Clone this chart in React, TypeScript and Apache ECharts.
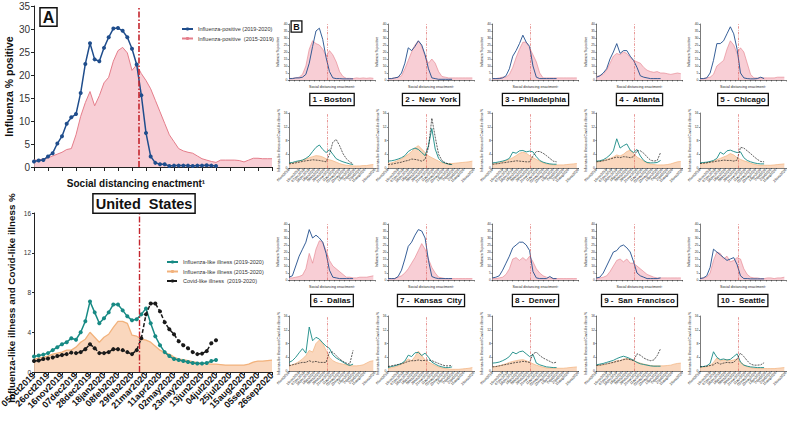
import React, { useEffect, useRef } from "react";
import * as echarts from "echarts";

// ---------- tick labels ----------
const dateLabels = [
  "05oct2019", "26oct2019", "16nov2019", "07dec2019", "28dec2019", "18jan2020",
  "08feb2020", "29feb2020", "21mar2020", "11apr2020", "02may2020", "23may2020",
  "13jun2020", "04jul2020", "25jul2020", "15aug2020", "05sep2020", "26sep2020",
];
const distancingWeek = 22.5;

// ---------- Panel A : United States (weekly) ----------
const usFluPos1920 = [1.2, 1.4, 1.5, 2.3, 3.0, 5.1, 6.7, 9.4, 10.8, 11.5, 16.1, 22.4, 26.9, 23.4, 23.0, 25.9, 28.2, 30.1, 30.2, 29.6, 28.2, 25.7, 22.3, 15.6, 7.4, 2.3, 0.9, 0.6, 0.6, 0.2, 0.3, 0.3, 0.3, 0.3, 0.2, 0.3, 0.3, 0.4, 0.3, 0.2];
const usFluPos1519 = [1.5, 1.5, 1.8, 2.0, 2.4, 2.8, 3.2, 3.8, 4.0, 7.0, 11.0, 14.0, 16.4, 13.3, 15.5, 18.3, 19.5, 23.0, 25.3, 26.0, 24.8, 21.0, 22.2, 20.3, 18.8, 17.0, 14.5, 12.0, 9.5, 7.0, 5.5, 4.0, 3.5, 3.2, 3.0, 2.4, 1.8, 1.5, 1.2, 1.0, 1.5, 1.5, 1.5, 1.5, 1.4, 1.1, 1.5, 1.9, 1.9, 1.8, 1.8, 1.8];
const usIli1920 = [1.55, 1.65, 1.75, 1.9, 2.2, 2.5, 2.8, 3.0, 3.4, 3.25, 4.0, 5.1, 7.1, 6.0, 4.9, 5.4, 6.0, 6.8, 6.8, 6.2, 5.6, 5.2, 5.3, 5.8, 6.4, 4.9, 3.6, 2.7, 2.0, 1.6, 1.3, 1.2, 1.1, 1.0, 0.9, 0.85, 0.85, 0.9, 1.1, 1.2];
const usIli1520 = [1.3, 1.4, 1.5, 1.6, 1.8, 1.9, 2.0, 2.2, 2.2, 2.5, 3.0, 3.3, 4.0, 3.5, 3.0, 3.5, 3.8, 4.5, 5.1, 5.1, 4.9, 3.7, 3.6, 3.3, 3.2, 3.0, 2.6, 2.2, 1.95, 1.8, 1.5, 1.3, 1.25, 1.15, 1.05, 0.95, 0.9, 0.85, 0.8, 0.8, 0.75, 0.7, 0.7, 0.7, 0.7, 0.7, 0.8, 1.0, 1.1, 1.1, 1.15, 1.2];
const usCli1920 = [1.1, 1.15, 1.3, 1.35, 1.45, 1.6, 1.7, 1.8, 1.95, 1.9, 2.0, 2.3, 2.8, 2.4, 1.9, 1.9, 2.0, 2.3, 2.3, 2.2, 2.0, 1.8, 2.2, 3.4, 5.8, 6.9, 6.9, 6.1, 5.0, 4.3, 3.8, 3.1, 2.7, 2.4, 2.0, 1.8, 1.85, 2.1, 2.9, 3.2];

// ---------- Panel B : cities (read every second week) ----------
const bostonFlu = [1, 1, 1.5, 1.5, 2, 4, 12, 24, 35, 37, 29, 16, 6, 1.5, 1, 1, 0.8, 0.8, 0.8, 0.8];
const bostonFluAvg = [1, 1.2, 1.5, 2, 4, 10, 22, 28, 26, 25, 22, 17, 21, 18, 13, 6, 2.5, 1.2, 1.2, 1, 1.5, 1.2, 1.5, 1.2, 1.5, 1.2];
const bostonIli = [1.5, 1.6, 1.9, 2.1, 2.3, 2.8, 3.5, 4.8, 6.0, 6.7, 5.4, 4.5, 5.3, 4.0, 2.7, 2.2, 1.8, 1.5, 1.2, 1.0];
const bostonIliAvg = [1.3, 1.5, 1.7, 2.0, 2.3, 2.6, 3.0, 3.3, 3.6, 3.5, 3.2, 2.7, 2.4, 2.1, 1.7, 1.3, 1.0, 0.8, 0.7, 0.6, 0.6, 0.6, 0.7, 0.7, 0.9, 1.0];
const bostonCli = [1.2, 1.3, 1.5, 1.7, 1.9, 2.1, 2.2, 2.4, 2.3, 2.2, 2.0, 1.8, 4.0, 7.5, 8.3, 6.5, 4.2, 2.7, 1.8, 1.2];

const nyFlu = [1, 1, 1.5, 2, 5, 12, 23, 21, 24, 28, 25, 18, 8, 1.5, 1, 0.5, 0.5, 0.5, 0.5, 0.5];
const nyFluAvg = [1, 1, 1.5, 2, 3, 8, 14, 20, 25, 28, 24, 17, 12, 15, 12, 6, 2.5, 2, 1.5, 1.5, 1.5, 1.5, 1.5, 1.5, 1.5, 1.5];
const nyIli = [2, 2.1, 2.3, 2.6, 3.0, 3.6, 4.8, 5.4, 5.8, 5.4, 4.5, 3.6, 6.5, 11.5, 5.5, 2.8, 1.8, 1.4, 1.1, 1.0];
const nyIliAvg = [1.3, 1.5, 1.8, 2.2, 2.7, 3.3, 4.0, 4.8, 5.8, 6.5, 5.5, 4.5, 3.5, 3.0, 2.5, 2.0, 1.5, 1.3, 1.3, 1.3, 1.4, 1.5, 1.6, 1.7, 1.8, 2.0];
const nyCli = [1, 1.1, 1.3, 1.5, 1.7, 2.0, 2.2, 2.6, 2.5, 2.3, 2.0, 2.5, 6.0, 14.5, 9.0, 4.0, 2.2, 1.5, 1.2, 1.0];

const phlFlu = [1, 1, 1, 1.5, 3, 8, 17, 21, 26, 32, 27, 24, 10, 2, 1, 1, 1, 1, 1, 1];
const phlFluAvg = [1, 1, 1.5, 2, 2, 4, 9, 16, 22, 27, 27, 23, 18, 13, 5, 1.5, 1.5, 1.5, 1.5, 1.5, 1.5, 1.5, 1.5, 1.5, 1.5, 1.5];
const phlIli = [1.5, 1.6, 1.8, 2.0, 2.3, 2.8, 4.6, 4.3, 5.0, 5.1, 4.7, 4.9, 4.7, 3.3, 2.2, 1.7, 1.4, 1.2, 1.1, 1.1];
const phlIliAvg = [1.1, 1.3, 1.5, 1.8, 2.1, 2.5, 3.0, 3.6, 4.3, 4.6, 4.3, 3.6, 3.0, 2.5, 2.0, 1.5, 1.2, 1.0, 0.9, 0.9, 0.9, 0.9, 1.0, 1.1, 1.2, 1.3];
const phlCli = [1.1, 1.2, 1.3, 1.5, 1.6, 1.8, 1.9, 2.1, 2.0, 1.9, 1.8, 1.8, 3.5, 4.8, 4.8, 4.3, 3.6, 2.8, 2.0, 1.8];

const atlFlu = [2, 3, 5, 8, 15, 20, 26, 19, 21, 21, 17, 14, 9, 3, 2, 1.5, 1, 1, 1, 1];
const atlFluAvg = [2.5, 3, 4, 7, 12, 17, 19, 18, 20, 19, 16, 14, 13, 12, 9, 7, 6, 5.5, 6, 5, 5, 4.5, 4, 4.5, 5, 4.5];
const atlIli = [2.0, 2.1, 2.4, 3.0, 3.8, 5.0, 8.5, 5.8, 6.5, 7.0, 5.2, 4.5, 5.4, 3.5, 2.2, 1.6, 1.5, 1.5, 1.6, 2.2];
const atlIliAvg = [1.8, 2.0, 2.2, 2.5, 2.8, 3.2, 3.8, 3.5, 4.0, 4.8, 5.2, 4.2, 3.2, 2.6, 2.0, 1.5, 1.2, 1.0, 0.9, 0.9, 0.9, 1.0, 1.2, 1.5, 1.8, 1.9];
const atlCli = [1.8, 1.9, 2.1, 2.3, 2.6, 2.9, 3.2, 3.0, 3.3, 3.2, 3.0, 3.3, 5.0, 5.0, 4.3, 3.2, 2.3, 2.0, 2.2, 4.5];

const chiFlu = [1, 1, 1.5, 5, 14, 26, 26, 28, 33, 38, 33, 22, 5, 1.5, 1, 0.8, 0.8, 1, 2, 1];
const chiFluAvg = [1, 1, 1.5, 2, 4, 10, 12, 14, 22, 28, 25, 19, 23, 20, 12, 4, 1.5, 1.5, 1.5, 1.5, 1.5, 1.5, 1.5, 2, 2, 2];
const chiIli = [1.5, 1.6, 1.7, 1.9, 2.2, 2.8, 4.6, 4.0, 5.0, 5.2, 4.8, 4.5, 4.7, 3.0, 2.2, 1.8, 1.5, 1.3, 1.2, 1.2];
const chiIliAvg = [1.2, 1.3, 1.5, 1.7, 2.0, 2.4, 2.8, 3.2, 3.6, 4.2, 3.8, 3.0, 2.5, 2.1, 1.8, 1.4, 1.1, 0.9, 0.8, 0.8, 0.8, 0.8, 0.9, 1.0, 1.1, 1.2];
const chiCli = [1.3, 1.4, 1.5, 1.7, 1.8, 2.0, 2.1, 2.3, 2.2, 2.2, 2.0, 2.3, 6.0, 5.8, 5.0, 4.2, 3.3, 2.5, 1.9, 1.8];

const dalFlu = [2, 3, 10, 17, 22, 27, 36, 30, 32, 30, 27, 19, 7, 2, 1.5, 1, 1, 1, 1, 1];
const dalFluAvg = [1.5, 1.5, 2, 2.5, 3.5, 8, 19, 12, 22, 28, 27, 21, 14, 10, 8, 6, 4, 2, 2, 1.5, 1.5, 2, 2, 2, 2.5, 3];
const dalIli = [2.5, 3.0, 4.0, 5.3, 6.5, 5.2, 12.8, 8.8, 9.8, 9.3, 8.2, 7.2, 6.6, 4.7, 3.8, 3.2, 2.6, 2.0, 1.6, 2.0];
const dalIliAvg = [1.5, 1.8, 2.2, 2.8, 3.5, 4.5, 6.0, 5.5, 8.0, 9.0, 8.0, 6.0, 4.0, 3.0, 2.5, 2.2, 2.0, 1.8, 1.6, 1.5, 1.5, 1.6, 1.8, 2.3, 2.8, 3.0];
const dalCli = [1.5, 1.8, 2.0, 2.3, 2.5, 2.5, 3.0, 2.6, 2.8, 2.5, 2.5, 2.5, 5.5, 5.5, 4.5, 3.5, 2.8, 2.3, 2.0, 6.0];

const kcFlu = [1, 1, 1, 2.5, 7, 15, 24, 27, 32, 36, 35, 30, 14, 2.5, 1.5, 1, 1, 1, 1, 1];
const kcFluAvg = [1, 1, 1, 2, 3, 5, 8, 12, 16, 21, 26, 22, 15, 9, 5, 2, 1.5, 1, 1, 1, 1, 1, 1, 1, 1, 1];
const kcIli = [1.0, 1.3, 1.5, 1.8, 2.2, 2.9, 4.6, 4.2, 5.3, 5.4, 4.5, 5.2, 4.0, 2.6, 2.0, 1.5, 1.2, 1.0, 1.0, 1.2];
const kcIliAvg = [0.8, 1.0, 1.2, 1.5, 2.0, 2.6, 3.5, 3.0, 4.2, 5.8, 4.5, 3.2, 2.6, 2.1, 1.6, 1.2, 0.9, 0.7, 0.6, 0.5, 0.5, 0.5, 0.6, 0.7, 0.8, 1.0];
const kcCli = [1.3, 1.5, 1.7, 1.9, 2.1, 2.4, 2.8, 3.0, 3.0, 3.2, 3.0, 3.1, 3.2, 3.0, 2.6, 2.2, 1.8, 1.5, 1.5, 1.6];

const denFlu = [1.5, 2, 3, 7, 12, 17, 23, 25, 27, 27, 25, 21, 6, 1.5, 1, 1, 1, 2.5, 1, 1];
const denFluAvg = [1, 1, 1.5, 2, 4, 8, 15, 16, 14, 16, 14, 17, 13, 8, 5, 3, 2, 1.5, 1, 1, 1, 1, 1, 1, 1, 1];
const denIli = [2.3, 2.4, 2.6, 3.0, 3.5, 4.2, 5.5, 5.0, 5.6, 5.8, 5.0, 4.2, 4.8, 2.3, 1.8, 1.5, 1.2, 1.1, 1.0, 1.0];
const denIliAvg = [1.2, 1.3, 1.5, 1.8, 2.1, 2.5, 2.8, 3.0, 3.2, 3.3, 3.0, 2.6, 2.1, 1.7, 1.4, 1.1, 0.9, 0.8, 0.8, 0.8, 0.8, 0.8, 0.9, 1.0, 1.1, 1.2];
const denCli = [1.2, 1.3, 1.5, 1.7, 1.9, 2.1, 2.3, 2.5, 2.6, 2.8, 2.7, 2.5, 5.0, 5.5, 4.5, 3.8, 3.3, 2.8, 2.3, 2.6];

const sfFlu = [1.5, 2, 5, 10, 15, 20, 21, 24, 25, 23, 20, 13, 5, 3, 2, 1, 1, 1, 1, 1.5];
const sfFluAvg = [1, 1.5, 2, 3, 6, 10, 14, 15, 13, 15, 12, 12, 10, 8, 6, 4, 3, 2, 1.5, 1.5, 1.5, 1.5, 1.5, 1.5, 1.5, 1.5];
const sfIli = [1.8, 2.0, 2.2, 2.5, 2.8, 3.1, 3.6, 4.0, 4.3, 4.0, 3.6, 3.1, 2.5, 2.1, 1.9, 1.7, 1.5, 1.4, 1.4, 1.4];
const sfIliAvg = [1.5, 1.6, 1.8, 2.0, 2.3, 2.6, 3.0, 3.0, 3.5, 3.6, 3.4, 3.1, 2.6, 2.3, 2.0, 1.8, 1.6, 1.5, 1.5, 1.5, 1.5, 1.6, 1.7, 2.0, 2.2, 2.3];
const sfCli = [1.6, 1.7, 1.9, 2.1, 2.3, 2.5, 2.8, 3.0, 3.3, 3.5, 3.3, 3.0, 5.0, 4.6, 3.8, 3.3, 3.0, 3.2, 4.5, 6.5];

const seaFlu = [1, 1.5, 3, 9, 22, 20, 18, 16, 14, 15, 16, 11, 3, 1, 1, 0.8, 0.8, 0.8, 0.8, 0.8];
const seaFluAvg = [1, 1.5, 2, 5, 14, 20, 19, 15, 17, 13, 14, 16, 15, 8, 4, 2, 1.5, 1.5, 1, 1, 1.5, 1.5, 1, 1.5, 1.5, 2];
const seaIli = [1.2, 1.3, 1.5, 2.2, 5.6, 4.0, 3.3, 3.5, 3.2, 3.4, 4.2, 5.0, 2.6, 1.7, 1.4, 1.2, 1.1, 1.0, 1.0, 1.0];
const seaIliAvg = [1.0, 1.1, 1.3, 1.6, 2.5, 3.8, 3.0, 3.2, 3.3, 3.0, 3.2, 3.5, 2.6, 1.8, 1.3, 1.0, 0.8, 0.7, 0.7, 0.7, 0.7, 0.7, 0.7, 0.8, 0.9, 1.0];
const seaCli = [1.2, 1.3, 1.4, 1.6, 1.8, 2.5, 2.0, 2.3, 2.5, 2.4, 2.5, 3.5, 5.2, 4.2, 3.0, 2.0, 1.7, 1.7, 1.8, 2.4];

const cityTitles = [
  "1 - Boston", "2 -  New  York", "3 -  Philadelphia", "4 -  Atlanta", "5 -  Chicago",
  "6 -  Dallas", "7 -  Kansas  City", "8 -  Denver", "9 -  San  Francisco", "10 -  Seattle",
];

const cities = [
  [bostonFlu, bostonFluAvg, bostonIli, bostonIliAvg, bostonCli],
  [nyFlu, nyFluAvg, nyIli, nyIliAvg, nyCli],
  [phlFlu, phlFluAvg, phlIli, phlIliAvg, phlCli],
  [atlFlu, atlFluAvg, atlIli, atlIliAvg, atlCli],
  [chiFlu, chiFluAvg, chiIli, chiIliAvg, chiCli],
  [dalFlu, dalFluAvg, dalIli, dalIliAvg, dalCli],
  [kcFlu, kcFluAvg, kcIli, kcIliAvg, kcCli],
  [denFlu, denFluAvg, denIli, denIliAvg, denCli],
  [sfFlu, sfFluAvg, sfIli, sfIliAvg, sfCli],
  [seaFlu, seaFluAvg, seaIli, seaIliAvg, seaCli],
];

// ---------- styles ----------
const FONT = "'Liberation Sans', Arial, Helvetica, sans-serif";
const RED = "#c4262e";
const RED_LIGHT = "#d9534f";
const BLUE = "#1f4d8c";
const PINK_LINE = "#e47d8a";
const PINK_FILL = "rgba(246,194,202,0.8)";
const TEAL = "#178a84";
const ORANGE_LINE = "#f2b27c";
const ORANGE_FILL = "rgba(249,208,178,0.85)";
const DARK = "#1a1a1a";
const AXIS = "#222";

const N_FLU_POS = "Influenza-positive (2019-2020)";
const N_FLU_AVG = "Influenza-positive  (2015-2019)";
const N_ILI = "Influenza-like illness (2019-2020)";
const N_ILI_AVG = "Influenza-like illness (2015-2020)";
const N_CLI = "Covid-like illness  (2019-2020)";

const pairs = (values: number[], step: number) => values.map((v, i) => [i * step, v]);

const vline = (color: string, width: number, dash: number[]) => ({
  silent: true,
  symbol: ["none", "none"],
  label: { show: false },
  emphasis: { disabled: true },
  lineStyle: { color, width, type: dash, opacity: 1 },
  data: [{ xAxis: distancingWeek }],
});

const boxed = (text: string, x: number, y: number, size: number, pad: number[], bw = 1.5) => ({
  type: "text",
  x,
  y,
  z: 100,
  style: {
    text,
    font: `bold ${size}px ${FONT}`,
    fill: "#111",
    align: "center",
    verticalAlign: "middle",
    backgroundColor: "#fff",
    borderColor: "#111",
    borderWidth: bw,
    padding: pad,
  },
});

const dateFormatter = (v: number) => dateLabels[Math.round(v / 3)] ?? "";

function buildOption() {
  const grid: any[] = [];
  const xAxis: any[] = [];
  const yAxis: any[] = [];
  const series: any[] = [];
  const graphic: any[] = [];

  const addGrid = (g: any, xa: any, ya: any) => {
    const idx = grid.length;
    grid.push({ ...g, containLabel: false, outerBoundsMode: "none" });
    xAxis.push({ type: "value", min: 0, max: 51, interval: 3, gridIndex: idx, splitLine: { show: false }, ...xa });
    yAxis.push({ type: "value", gridIndex: idx, splitLine: { show: false }, nameLocation: "middle", ...ya });
    return idx;
  };

  const lineAxis = (w: number) => ({ show: true, lineStyle: { color: AXIS, width: w } });

  // ---- A top ----
  const a1 = addGrid(
    { left: 34, top: 6, width: 238, height: 161 },
    {
      axisLine: lineAxis(1),
      axisTick: { show: true, length: 4, lineStyle: { color: AXIS } },
      axisLabel: { show: false },
    },
    {
      min: 0, max: 35, interval: 5,
      axisLine: lineAxis(1),
      axisTick: { show: true, length: 3, lineStyle: { color: AXIS } },
      axisLabel: { fontSize: 10, color: "#333", margin: 4 },
      name: "Influenza % positive",
      nameGap: 20,
      nameTextStyle: { fontSize: 10.5, fontWeight: "bold", color: "#111" },
    }
  );
  series.push({
    type: "line", name: N_FLU_AVG, xAxisIndex: a1, yAxisIndex: a1,
    data: pairs(usFluPos1519, 1), symbol: "none", z: 2,
    lineStyle: { color: PINK_LINE, width: 1 }, itemStyle: { color: PINK_LINE },
    areaStyle: { color: PINK_FILL, opacity: 1 },
    markLine: vline(RED, 1.6, [6, 2, 1.5, 2]),
  });
  series.push({
    type: "line", name: N_FLU_POS, xAxisIndex: a1, yAxisIndex: a1,
    data: pairs(usFluPos1920, 1), symbol: "circle", symbolSize: 4, z: 3,
    lineStyle: { color: BLUE, width: 1.5 }, itemStyle: { color: BLUE },
  });

  // ---- A bottom ----
  const a2 = addGrid(
    { left: 34, top: 213, width: 238, height: 159 },
    {
      axisLine: lineAxis(1),
      axisTick: { show: true, length: 3, lineStyle: { color: AXIS } },
      axisLabel: {
        show: true, rotate: 45, fontSize: 9.1, fontWeight: "bold", color: "#111", margin: 2,
        showMinLabel: true, showMaxLabel: true, hideOverlap: false,
        formatter: dateFormatter,
      },
    },
    {
      min: 0, max: 16, interval: 4,
      axisLine: lineAxis(1),
      axisTick: { show: true, length: 2, lineStyle: { color: AXIS } },
      axisLabel: { fontSize: 6.5, color: "#333", margin: 3 },
    }
  );
  series.push({
    type: "line", name: N_ILI_AVG, xAxisIndex: a2, yAxisIndex: a2,
    data: pairs(usIli1520, 1), symbol: "none", z: 2,
    lineStyle: { color: ORANGE_LINE, width: 1.3 }, itemStyle: { color: ORANGE_LINE },
    areaStyle: { color: ORANGE_FILL, opacity: 1 },
    markLine: vline(RED, 1.4, [6, 2, 1.5, 2]),
  });
  series.push({
    type: "line", name: N_ILI, xAxisIndex: a2, yAxisIndex: a2,
    data: pairs(usIli1920, 1), symbol: "circle", symbolSize: 4, z: 3,
    lineStyle: { color: TEAL, width: 1.5 }, itemStyle: { color: TEAL },
  });
  series.push({
    type: "line", name: N_CLI, xAxisIndex: a2, yAxisIndex: a2,
    data: pairs(usCli1920, 1), symbol: "circle", symbolSize: 4, z: 4,
    lineStyle: { color: DARK, width: 1.5, type: [4, 2] }, itemStyle: { color: DARK },
  });

  // ---- B cities ----
  const colLefts = [289, 388, 492.5, 596.5, 700];
  const W = 86;
  cities.forEach((c, k) => {
    const row = Math.floor(k / 5);
    const left = colLefts[k % 5];
    const topTop = row ? 224 : 24;
    const botTop = row ? 316 : 113;
    const titleY = row ? 300.5 : 99.5;
    const [flu, fluAvg, ili, iliAvg, cli] = c;

    const g1 = addGrid(
      { left, top: topTop, width: W, height: 56 },
      {
        axisLine: lineAxis(0.6),
        axisTick: { show: true, length: 1.5, lineStyle: { color: AXIS, width: 0.5 } },
        axisLabel: { show: false },
        name: "Social distancing enactment\u00b9",
        nameLocation: "middle",
        nameGap: 5,
        nameTextStyle: { fontSize: 3.6, color: "#222" },
      },
      {
        min: 0, max: 40, interval: 5,
        axisLine: lineAxis(0.6),
        axisTick: { show: true, length: 1.2, lineStyle: { color: AXIS, width: 0.5 } },
        axisLabel: { fontSize: 3.4, color: "#333", margin: 1.5 },
        name: "Influenza % positive",
        nameGap: 7,
        nameTextStyle: { fontSize: 3.4, color: "#222" },
      }
    );
    series.push({
      type: "line", name: N_FLU_AVG, xAxisIndex: g1, yAxisIndex: g1,
      data: pairs(fluAvg, 2), symbol: "none", z: 2,
      lineStyle: { color: PINK_LINE, width: 0.6 }, itemStyle: { color: PINK_LINE },
      areaStyle: { color: PINK_FILL, opacity: 1 },
      markLine: vline(RED_LIGHT, 0.6, [2.5, 1.2, 0.8, 1.2]),
    });
    series.push({
      type: "line", name: N_FLU_POS, xAxisIndex: g1, yAxisIndex: g1,
      data: pairs(flu, 2), symbol: "none", z: 3,
      lineStyle: { color: BLUE, width: 0.9 }, itemStyle: { color: BLUE },
    });

    const g2 = addGrid(
      { left, top: botTop, width: W, height: 55 },
      {
        axisLine: lineAxis(0.6),
        axisTick: { show: true, length: 1.2, lineStyle: { color: AXIS, width: 0.5 } },
        axisLabel: {
          show: true, rotate: 45, fontSize: 3.5, color: "#222", margin: 1.5,
          showMinLabel: true, showMaxLabel: true, hideOverlap: false,
          formatter: dateFormatter,
        },
      },
      {
        min: 0, max: 16, interval: 4,
        axisLine: lineAxis(0.6),
        axisTick: { show: true, length: 1.2, lineStyle: { color: AXIS, width: 0.5 } },
        axisLabel: { fontSize: 3.4, color: "#333", margin: 1.5 },
        name: "Influenza-like illness and Covid-like illness %",
        nameGap: 7,
        nameTextStyle: { fontSize: 3.2, color: "#222" },
      }
    );
    series.push({
      type: "line", name: N_ILI_AVG, xAxisIndex: g2, yAxisIndex: g2,
      data: pairs(iliAvg, 2), symbol: "none", z: 2,
      lineStyle: { color: ORANGE_LINE, width: 0.7 }, itemStyle: { color: ORANGE_LINE },
      areaStyle: { color: ORANGE_FILL, opacity: 1 },
      markLine: vline(RED_LIGHT, 0.6, [2.5, 1.2, 0.8, 1.2]),
    });
    series.push({
      type: "line", name: N_ILI, xAxisIndex: g2, yAxisIndex: g2,
      data: pairs(ili, 2), symbol: "none", z: 3,
      lineStyle: { color: TEAL, width: 0.9 }, itemStyle: { color: TEAL },
    });
    series.push({
      type: "line", name: N_CLI, xAxisIndex: g2, yAxisIndex: g2,
      data: pairs(cli, 2), symbol: "none", z: 4,
      lineStyle: { color: DARK, width: 0.7, type: [2, 1] }, itemStyle: { color: DARK },
    });

    graphic.push(boxed(cityTitles[k], left + W / 2, titleY, 8, [2, 2, 1, 2], 1.3));
  });

  // ---- labels & boxes ----
  graphic.push(boxed("A", 48.5, 17, 16, [1, 2, 0, 2]));
  graphic.push(boxed("B", 296.5, 26.5, 9, [1, 1.5, 0, 1.5], 1.3));
  graphic.push(boxed("United  States", 144, 203.5, 14.5, [2, 2, 1, 2]));
  graphic.push({
    type: "text", x: 136, y: 183, z: 50,
    style: {
      text: "Social distancing enactment\u00b9",
      font: `bold 10px ${FONT}`, fill: "#111", align: "center", verticalAlign: "middle",
    },
  });
  graphic.push({
    type: "text", x: 11, y: 298, z: 50, rotation: Math.PI / 2,
    style: {
      text: "Influenza-like illness and Covid-like illness %",
      font: `bold 9.8px ${FONT}`, fill: "#111", align: "center", verticalAlign: "middle",
    },
  });

  return {
    animation: false,
    backgroundColor: "#ffffff",
    textStyle: { fontFamily: FONT },
    grid,
    xAxis,
    yAxis,
    series,
    graphic,
    legend: [
      {
        left: 176, top: 21, orient: "vertical", itemWidth: 11, itemHeight: 4, itemGap: 3.5,
        textStyle: { fontSize: 5.5, color: "#333" },
        data: [N_FLU_POS, N_FLU_AVG],
        selectedMode: false,
      },
      {
        left: 161, top: 254, orient: "vertical", itemWidth: 11, itemHeight: 4, itemGap: 3.5,
        textStyle: { fontSize: 5.5, color: "#333" },
        data: [N_ILI, N_ILI_AVG, N_CLI],
        selectedMode: false,
      },
    ],
  };
}

export default function App() {
  const ref = useRef<HTMLDivElement>(null);
  useEffect(() => {
    if (!ref.current) return;
    const chart = echarts.init(ref.current, undefined, { renderer: "svg" });
    chart.setOption(buildOption() as any);
    return () => chart.dispose();
  }, []);
  return (
    <div
      ref={ref}
      style={{ position: "fixed", left: 0, top: 0, width: 788, height: 423, background: "#fff" }}
    />
  );
}
